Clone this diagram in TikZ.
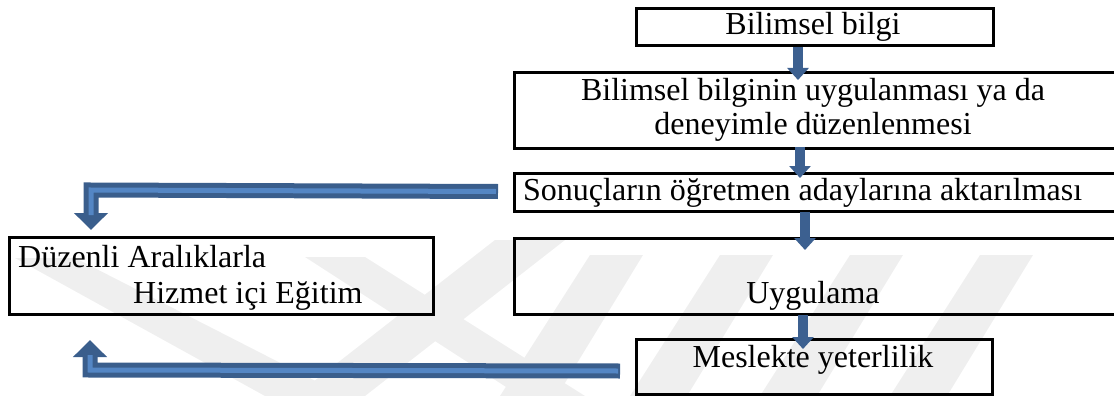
\documentclass[tikz,border=0pt]{standalone}
\usepackage{fontspec}
\setmainfont{Liberation Serif}
\usetikzlibrary{arrows.meta,calc}

\definecolor{arrowblue}{RGB}{60,96,144}
\definecolor{arrowdark}{RGB}{58,94,140}
\definecolor{arrowlight}{RGB}{84,134,196}
\definecolor{emblemgray}{RGB}{239,239,239}

\tikzset{
  box/.style={draw=black, line width=3pt, anchor=north west, inner sep=0pt, fill=none},
  label/.style={inner sep=0pt, font=\fontsize{32}{36.8}\selectfont},
  downarrow/.style={draw=arrowblue, line width=10pt,
    -{Triangle[width=21pt,length=12pt,fill=arrowblue]}},
  bentouter/.style={draw=arrowdark, line width=15pt,
    -{Triangle[width=33pt,length=17pt,fill=arrowdark]}},
  bentinner/.style={draw=arrowlight, line width=5pt},
  emblem/.style={fill=emblemgray, draw=none}
}

\begin{document}
\begin{tikzpicture}[x=1pt,y=-1pt]
  \useasboundingbox (0,0) rectangle (1114,396);
  \clip (0,0) rectangle (1114,396);

  % faint background emblem: slanted bands
  \fill[emblem] (15,258) -- (75,258) -- (345,396) -- (265,396) -- cycle;
  \fill[emblem] (295,396) -- (365,396) -- (565,240) -- (495,240) -- cycle;
  \fill[emblem] (305,257) -- (365,257) -- (585,396) -- (520,396) -- cycle;
  \foreach \x in {500,630,760,890} {
    \fill[emblem] (\x,396) -- (\x+57,396) -- (\x+143,255) -- (\x+90,255) -- cycle;
  }

  % boxes
  \node[box, minimum width=357pt, minimum height=37pt] (bilgi) at (635,7) {};
  \node[box, minimum width=604pt, minimum height=76pt] (uygulanma) at (513,71) {};
  \node[box, minimum width=604pt, minimum height=38pt] (aktarma) at (513,172) {};
  \node[box, minimum width=604pt, minimum height=76pt] (uygulama) at (513,237) {};
  \node[box, minimum width=356pt, minimum height=55pt] (yeterlilik) at (635,338) {};
  \node[box, minimum width=424pt, minimum height=77pt] (hizmet) at (8,236) {};

  % texts
  \node[label, anchor=base] (t1) at (813,35) {Bilimsel bilgi};
  \node[label, anchor=base] (t2a) at (813,100) {Bilimsel bilginin uygulanması ya da};
  \node[label, anchor=base] (t2b) at (813,134) {deneyimle düzenlenmesi};
  \node[label, anchor=base west] (t3) at (523,200) {Sonuçların öğretmen adaylarına aktarılması};
  \node[label, anchor=base] (t4) at (813,303) {Uygulama};
  \node[label, anchor=base] (t5) at (813,367) {Meslekte yeterlilik};
  \node[label, anchor=base west] (t6a) at (18,267) {Düzenli Aralıklarla};
  \node[label, anchor=base west] (t6b) at (133,303) {Hizmet içi Eğitim};

  % straight arrows between the boxes
  \draw[downarrow] ($(bilgi.south west)+(163,0)$) -- ($(uygulanma.north west)+(285,9)$);
  \draw[downarrow] ($(uygulanma.south west)+(287,-3)$) -- ($(aktarma.north west)+(287,6)$);
  \draw[downarrow] ($(aktarma.south west)+(292,-1)$) -- ($(uygulama.north west)+(292,13)$);
  \draw[downarrow] ($(uygulama.south west)+(290,-1)$) -- ($(yeterlilik.north west)+(168,11)$);

  % bent arrows leading to the in-service training box
  \coordinate (a1s) at ($(aktarma.west)+(-15,-1)$);
  \coordinate (a1c) at (91,190);
  \coordinate (a1e) at ($(hizmet.north west)+(83,-6)$);
  \draw[bentouter] (a1s) -- (a1c) -- (a1e);
  \draw[bentinner] ($(a1s)+(-2,0)$) -- (a1c) -- ($(a1e)+(0,-15)$);

  \coordinate (a2s) at ($(yeterlilik.west)+(-15,4)$);
  \coordinate (a2c) at (90,370);
  \coordinate (a2e) at ($(hizmet.south west)+(82,24)$);
  \draw[bentouter] (a2s) -- (a2c) -- (a2e);
  \draw[bentinner] ($(a2s)+(-2,0)$) -- (a2c) -- ($(a2e)+(0,15)$);
\end{tikzpicture}
\end{document}
